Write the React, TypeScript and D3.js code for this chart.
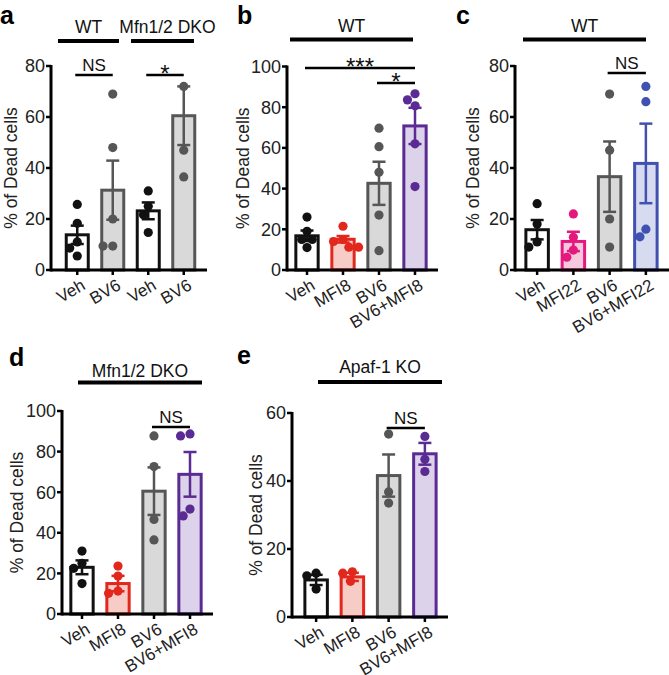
import React from "react";
import * as d3 from "d3";

const FONT = "'Liberation Sans', Arial, Helvetica, sans-serif";

// ---- panel a ----
const aLabels = ["Veh", "BV6", "Veh", "BV6"];
const aMeans = [13.8, 31.3, 23.2, 60.5];
const aSems = [3.6, 11.6, 3.3, 11.5];
const aPoints = [
    [25.7, 18.3, 11, 8.6, 5.5],
    [69, 48, 20, 9.4, 9.4],
    [31, 25, 21.7, 14.7],
    [72, 47, 36.5],
];

// ---- panel b ----
const bLabels = ["Veh", "MFI8", "BV6", "BV6+MFI8"];
const bMeans = [16.8, 15.1, 42.6, 70.8];
const bSems = [2.6, 1.6, 10.6, 8.9];
const bPoints = [
    [26, 19, 15, 15, 11],
    [21.5, 15, 14, 11.2, 11.2],
    [69.7, 60.6, 48, 27, 9.5],
    [86.6, 83.6, 80.7, 62, 41],
];

// ---- panel c ----
const cLabels = ["Veh", "MFI22", "BV6", "BV6+MFI22"];
const cMeans = [15.8, 11.2, 36.6, 41.8];
const cSems = [3.8, 3.8, 13.8, 15.6];
const cPoints = [
    [26, 18, 11, 9],
    [22, 12.8, 7.8, 5],
    [69, 47, 20, 9],
    [72, 66, 16, 13],
];

// ---- panel d ----
const dLabels = ["Veh", "MFI8", "BV6", "BV6+MFI8"];
const dMeans = [23, 15, 60.5, 68.8];
const dSems = [3.4, 3.8, 11.7, 11];
const dPoints = [
    [31, 25, 22.5, 15],
    [23.6, 18.7, 11.3, 10.2],
    [87.7, 72.6, 46.6, 36.5],
    [88.7, 87.7, 51.7, 48.3],
];

// ---- panel e ----
const eLabels = ["Veh", "MFI8", "BV6", "BV6+MFI8"];
const eMeans = [10.9, 11.8, 41.6, 48];
const eSems = [1.5, 1.2, 6.2, 3.2];
const ePoints = [
    [12.9, 12.1, 8.2],
    [13.3, 12.9, 10.5],
    [53.8, 36.8, 33.5],
    [53.1, 46.4, 42.8],
];

// colours: [stroke, fill]
const BLACK = ["#111111", "#ffffff"];
const GRAY = ["#565656", "#d9d9d9"];
const RED = ["#e2271d", "#f7cbc6"];
const PURPLE = ["#5a2b93", "#dcd3ea"];
const PINK = ["#e3197d", "#f6c7dd"];
const BLUE = ["#4151b1", "#d6dbf0"];

// simple beeswarm so overlapping dots spread sideways
function swarm(vals, y, r) {
    const placed = [];
    const out = new Array(vals.length);
    const order = vals.map((v, i) => i).sort((a, b) => vals[b] - vals[a]);
    const dd = 2 * r + 0.5;
    for (const i of order) {
        const py = y(vals[i]);
        const cands = [0];
        for (const p of placed) {
            const dy = Math.abs(p.y - py);
            if (dy < dd) {
                const dx = Math.sqrt(dd * dd - dy * dy);
                cands.push(p.x - dx, p.x + dx);
            }
        }
        cands.sort((a, b) => Math.abs(a) - Math.abs(b));
        const best =
            cands.find((c) => placed.every((p) => (p.x - c) ** 2 + (p.y - py) ** 2 >= dd * dd - 0.01)) ?? 0;
        placed.push({ x: best, y: py });
        out[i] = { x: best, y: py };
    }
    return out;
}

function Panel({ cfg }) {
    const x = d3
        .scaleBand()
        .domain(cfg.labels.map((d, i) => String(i)))
        .range(cfg.xRange)
        .paddingInner(0.38)
        .paddingOuter(0.19);
    const y = d3.scaleLinear().domain(cfg.yDomain).range([cfg.y0, cfg.yTop]);
    const bw = x.bandwidth();
    const cx = (i) => x(String(i)) + bw / 2;
    const y0 = cfg.y0;

    return (
        <g fontFamily={FONT}>
            <text x={cfg.letter[1]} y={cfg.letter[2]} fontSize={25} fontWeight="bold" fill="#000">
                {cfg.letter[0]}
            </text>
            {cfg.groups.map((g, k) => (
                <g key={k}>
                    <text x={(g.x1 + g.x2) / 2 + (g.dx || 0)} y={g.ty} fontSize={17.5} textAnchor="middle" fill="#111">
                        {g.text}
                    </text>
                    <line x1={g.x1} x2={g.x2} y1={g.ly} y2={g.ly} stroke="#000" strokeWidth={4} />
                </g>
            ))}
            {/* y title */}
            <text
                transform={`translate(${cfg.titleX},${(cfg.y0 + cfg.yTop) / 2}) rotate(-90)`}
                textAnchor="middle"
                dy="0.35em"
                fontSize={17.5}
                fill="#222"
            >
                % of Dead cells
            </text>
            {/* bars */}
            {cfg.means.map((m, i) => (
                <rect
                    key={"b" + i}
                    x={x(String(i))}
                    y={y(m)}
                    width={bw}
                    height={y0 - y(m)}
                    fill={cfg.colors[i][1]}
                    stroke={cfg.colors[i][0]}
                    strokeWidth={3}
                />
            ))}
            {/* points */}
            {cfg.points.map((pts, i) =>
                swarm(pts, y, 4.6).map((p, j) => (
                    <circle key={"p" + i + "-" + j} cx={cx(i) + p.x} cy={p.y} r={4.6} fill={cfg.colors[i][0]} />
                ))
            )}
            {/* error bars */}
            {cfg.means.map((m, i) => {
                const hi = y(m + cfg.sems[i]);
                const lo = y(m - cfg.sems[i]);
                const c = cx(i);
                return (
                    <g key={"e" + i} stroke={cfg.colors[i][0]} strokeWidth={2.5}>
                        <line x1={c} x2={c} y1={hi} y2={lo} />
                        <line x1={c - 6.5} x2={c + 6.5} y1={hi} y2={hi} />
                        <line x1={c - 6.5} x2={c + 6.5} y1={lo} y2={lo} />
                    </g>
                );
            })}
            {/* axes */}
            <line x1={cfg.axisX} x2={cfg.axisX} y1={y(cfg.yDomain[1]) - 1} y2={y0 + 1.5} stroke="#000" strokeWidth={3} />
            <line x1={cfg.axisX} x2={cfg.axisEnd} y1={y0} y2={y0} stroke="#000" strokeWidth={3} />
            {cfg.ticks.map((t) => (
                <g key={"t" + t}>
                    <line x1={cfg.axisX - 5} x2={cfg.axisX} y1={y(t)} y2={y(t)} stroke="#000" strokeWidth={2.5} />
                    <text x={cfg.axisX - 6} y={y(t)} dy="0.36em" textAnchor="end" fontSize={18} fill="#222">
                        {t}
                    </text>
                </g>
            ))}
            {cfg.labels.map((l, i) => (
                <g key={"x" + i}>
                    <line x1={cx(i)} x2={cx(i)} y1={y0} y2={y0 + 5} stroke="#000" strokeWidth={2.5} />
                    <text
                        transform={`translate(${cx(i) + 3},${y0 + 8}) rotate(-30)`}
                        textAnchor="end"
                        dy="0.72em"
                        fontSize={17}
                        fill="#222"
                    >
                        {l}
                    </text>
                </g>
            ))}
            {/* significance */}
            {cfg.sig.map((s, k) => {
                const x1 = cx(s.i) - 2;
                const x2 = cx(s.j);
                const star = s.text.startsWith("*");
                return (
                    <g key={"s" + k}>
                        <line x1={x1} x2={x2} y1={s.y} y2={s.y} stroke="#000" strokeWidth={2.5} />
                        <text
                            x={(x1 + x2) / 2}
                            y={star ? s.y + 7 : s.y - 4}
                            textAnchor="middle"
                            fontSize={star ? 24 : 17}
                            fill="#111"
                        >
                            {s.text}
                        </text>
                    </g>
                );
            })}
        </g>
    );
}

const panels = [
    {
        letter: ["a", 0, 24],
        labels: aLabels,
        means: aMeans,
        sems: aSems,
        points: aPoints,
        colors: [BLACK, GRAY, BLACK, GRAY],
        yDomain: [0, 80],
        ticks: [0, 20, 40, 60, 80],
        xRange: [59.5, 201.5],
        y0: 270,
        yTop: 66,
        axisX: 51,
        axisEnd: 207,
        titleX: 11,
        groups: [
            { text: "WT", x1: 58, x2: 119, ty: 33, ly: 41 },
            { text: "Mfn1/2 DKO", x1: 131, x2: 194, ty: 33, ly: 41, dx: 5 },
        ],
        sig: [
            { i: 0, j: 1, y: 75, text: "NS" },
            { i: 2, j: 3, y: 75, text: "*" },
        ],
    },
    {
        letter: ["b", 237, 24],
        labels: bLabels,
        means: bMeans,
        sems: bSems,
        points: bPoints,
        colors: [BLACK, RED, GRAY, PURPLE],
        yDomain: [0, 100],
        ticks: [0, 20, 40, 60, 80, 100],
        xRange: [289, 433],
        y0: 270,
        yTop: 66.5,
        axisX: 287,
        axisEnd: 438,
        titleX: 243,
        groups: [{ text: "WT", x1: 290, x2: 413, ty: 32, ly: 39.5 }],
        sig: [
            { i: 0, j: 3, y: 68, text: "***" },
            { i: 2, j: 3, y: 83, text: "*" },
        ],
    },
    {
        letter: ["c", 456, 24],
        labels: cLabels,
        means: cMeans,
        sems: cSems,
        points: cPoints,
        colors: [BLACK, PINK, GRAY, BLUE],
        yDomain: [0, 80],
        ticks: [0, 20, 40, 60, 80],
        xRange: [519, 664],
        y0: 270,
        yTop: 66,
        axisX: 515,
        axisEnd: 669,
        titleX: 473,
        groups: [{ text: "WT", x1: 523, x2: 646, ty: 32, ly: 39.5 }],
        sig: [{ i: 2, j: 3, y: 73, text: "NS" }],
    },
    {
        letter: ["d", 9, 366],
        labels: dLabels,
        means: dMeans,
        sems: dSems,
        points: dPoints,
        colors: [BLACK, RED, GRAY, PURPLE],
        yDomain: [0, 100],
        ticks: [0, 20, 40, 60, 80, 100],
        xRange: [64, 208],
        y0: 614,
        yTop: 411,
        axisX: 62,
        axisEnd: 213,
        titleX: 17,
        groups: [{ text: "Mfn1/2 DKO", x1: 78, x2: 202, ty: 377, ly: 382.5 }],
        sig: [{ i: 2, j: 3, y: 427, text: "NS" }],
    },
    {
        letter: ["e", 237, 364],
        labels: eLabels,
        means: eMeans,
        sems: eSems,
        points: ePoints,
        colors: [BLACK, RED, GRAY, PURPLE],
        yDomain: [0, 60],
        ticks: [0, 20, 40, 60],
        xRange: [298, 443],
        y0: 617,
        yTop: 413,
        axisX: 292,
        axisEnd: 448,
        titleX: 256,
        groups: [{ text: "Apaf-1 KO", x1: 318, x2: 442, ty: 373, ly: 382 }],
        sig: [{ i: 2, j: 3, y: 428, text: "NS" }],
    },
];

export default function App() {
    return (
        <svg width={669} height={675} style={{ position: "absolute", left: 0, top: 0, background: "#fff" }}>
            <rect width={669} height={675} fill="#fff" />
            {panels.map((p, k) => (
                <Panel key={k} cfg={p} />
            ))}
        </svg>
    );
}
